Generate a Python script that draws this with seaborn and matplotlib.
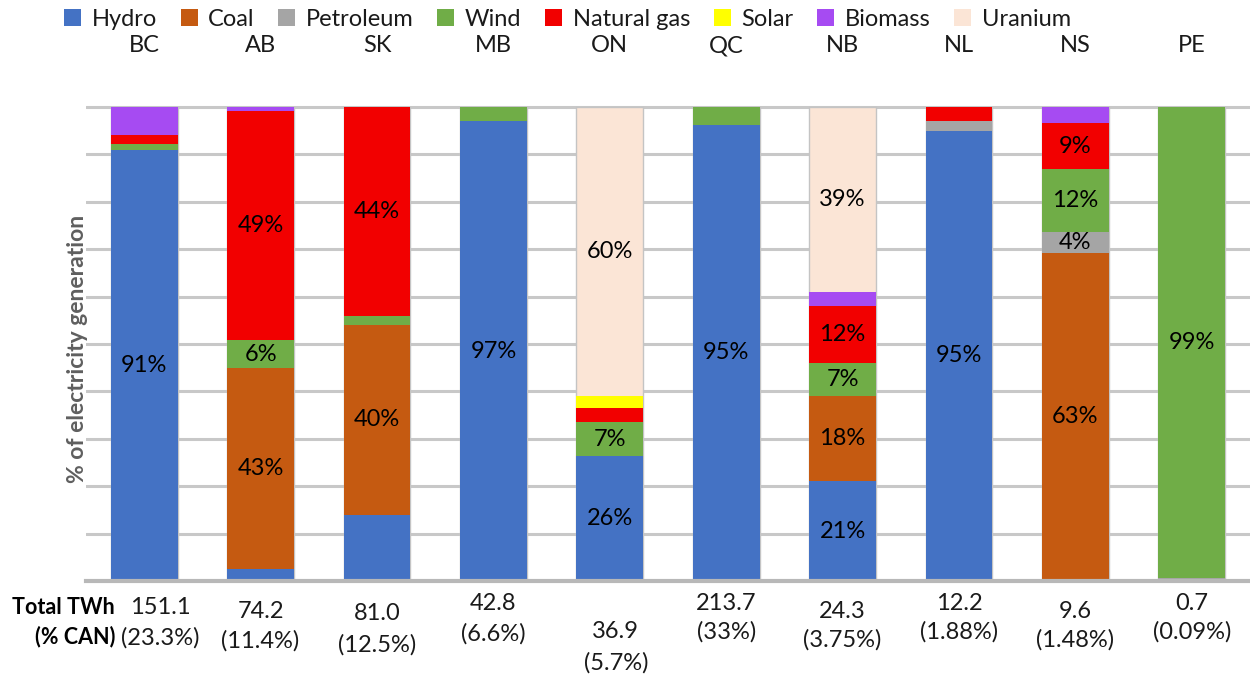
import matplotlib
matplotlib.use("Agg")
import matplotlib.pyplot as plt
import matplotlib.transforms as mtransforms
from matplotlib.patches import Patch
import numpy as np
import pandas as pd
import seaborn as sns

# ---- data -------------------------------------------------------------
provinces = ["BC", "AB", "SK", "MB", "ON", "QC", "NB", "NL", "NS", "PE"]

sources = ["Hydro", "Coal", "Petroleum", "Wind", "Natural gas", "Solar",
           "Biomass", "Uranium"]

hydro = [91, 2.5, 14, 97, 26, 95, 21, 95, 0, 0]
coal = [0, 43, 40, 0, 0, 0, 18, 0, 63, 0]
petroleum = [0, 0, 0, 0, 0, 0, 0, 2, 4, 0.7]
wind = [1.2, 6, 2, 3, 7, 3.7, 7, 0, 12, 99]
natural_gas = [1.8, 49, 44, 0, 3, 0, 12, 3, 9, 0]
solar = [0, 0, 0, 0, 2.5, 0, 0, 0, 0, 0]
biomass = [6, 0.8, 0, 0, 0, 0, 3, 0, 3, 0]
uranium = [0, 0, 0, 0, 60, 0, 39, 0, 0, 0]

total_twh = [151.1, 74.2, 81.0, 42.8, 36.9, 213.7, 24.3, 12.2, 9.6, 0.7]
share_of_canada = [23.3, 11.4, 12.5, 6.6, 5.7, 33, 3.75, 1.88, 1.48, 0.09]

# segments that carry a value label
labelled = {
    "BC": ["Hydro"],
    "AB": ["Coal", "Wind", "Natural gas"],
    "SK": ["Coal", "Natural gas"],
    "MB": ["Hydro"],
    "ON": ["Hydro", "Wind", "Uranium"],
    "QC": ["Hydro"],
    "NB": ["Hydro", "Coal", "Wind", "Natural gas", "Uranium"],
    "NL": ["Hydro"],
    "NS": ["Coal", "Petroleum", "Wind", "Natural gas"],
    "PE": ["Wind"],
}

# ---- styling ----------------------------------------------------------
colors = {
    "Hydro": "#4472C4",
    "Coal": "#C55A11",
    "Petroleum": "#A5A5A5",
    "Wind": "#70AD47",
    "Natural gas": "#F20000",
    "Solar": "#FFFF00",
    "Biomass": "#A64BF2",
    "Uranium": "#FBE5D6",
}

# text placement below the bars (pixel rows / horizontal nudges)
line1_y = [608, 611, 614, 604, 631, 603, 611, 604, 611, 604]
line2_y = [638, 641, 645, 634, 663, 632, 640, 632, 640, 632]
x_nudge = [16, 0, 0, 0, 6, 0, 0, 0, 0, 0]

W, H = 1250, 677
sns.set_theme(style="white")
plt.rcParams["font.family"] = ["Lato", "DejaVu Sans"]
FS = 17
FSB = 15.5
TXT = "#1a1a1a"

df = pd.DataFrame({
    "province": provinces,
    "Hydro": hydro, "Coal": coal, "Petroleum": petroleum, "Wind": wind,
    "Natural gas": natural_gas, "Solar": solar, "Biomass": biomass,
    "Uranium": uranium,
})
raw = df[sources].to_numpy(dtype=float)
shares = raw / raw.sum(axis=1, keepdims=True) * 100  # 100 % stacked
cum = np.cumsum(shares, axis=1)

fig = plt.figure(figsize=(W / 100, H / 100), dpi=100)
ax_left, ax_right = 86, 1250
ax_bottom, ax_top = 581, 104.6
ax = fig.add_axes([ax_left / W, (H - ax_bottom) / H,
                   (ax_right - ax_left) / W, (ax_bottom - ax_top) / H])

# stacked columns: draw cumulative heights from the top layer downwards
for j in reversed(range(len(sources))):
    src = sources[j]
    sns.barplot(x=provinces, y=cum[:, j], order=provinces, ax=ax,
                color=colors[src], saturation=1, width=0.575,
                edgecolor="#c4c4c4" if src == "Uranium" else colors[src],
                linewidth=1.0 if src == "Uranium" else 0)

ax.set_ylim(0, 100.5)
ax.set_xlim(-0.5, len(provinces) - 0.5)
ax.set_yticks(np.arange(0, 101, 10))
ax.yaxis.grid(True, color="#c8c8c8", linewidth=2.2)
ax.xaxis.grid(False)
ax.set_axisbelow(True)
ax.tick_params(axis="both", length=0, labelleft=False, labelbottom=False)
ax.set_xlabel("")
ax.set_ylabel("")
for side in ["left", "right", "top"]:
    ax.spines[side].set_visible(False)
ax.spines["bottom"].set_color("#b8b8b8")
ax.spines["bottom"].set_linewidth(3)
ax.spines["bottom"].set_zorder(5)

# value labels inside segments
for i, prov in enumerate(provinces):
    for src in labelled[prov]:
        j = sources.index(src)
        mid = cum[i, j] - shares[i, j] / 2
        ax.text(i, mid, f"{raw[i, j]:.0f}%", ha="center", va="center",
                fontsize=FS, color="black", zorder=6)

# province names above the columns
blend = mtransforms.blended_transform_factory(ax.transData, fig.transFigure)
for i, prov in enumerate(provinces):
    ax.text(i, 1 - 46 / H, prov, transform=blend, ha="center", va="center",
            fontsize=FS, color=TXT)

# totals below the columns
step = (ax_right - ax_left) / len(provinces)
for i in range(len(provinces)):
    xi = i + x_nudge[i] / step
    ax.text(xi, 1 - line1_y[i] / H, f"{total_twh[i]:.1f}", transform=blend,
            ha="center", va="center", fontsize=FS, color=TXT)
    ax.text(xi, 1 - line2_y[i] / H, f"({share_of_canada[i]:g}%)",
            transform=blend, ha="center", va="center", fontsize=FS, color=TXT)

fig.text(115 / W, 1 - 608 / H, "Total TWh", ha="right", va="center",
         fontsize=FSB, fontweight="bold", color="black")
fig.text(115 / W, 1 - 637 / H, "(% CAN)", ha="right", va="center",
         fontsize=FSB, fontweight="bold", color="black")

# axis title
fig.text(78 / W, 1 - 349 / H, "% of electricity generation", rotation=90,
         ha="center", va="center", fontsize=16.5, fontweight="bold",
         color="#5f5f5f")

# legend across the top
handles = [Patch(facecolor=colors[s], edgecolor="none") for s in sources]
fig.legend(handles, sources, loc="center", bbox_to_anchor=(0.454, 1 - 19 / H),
           ncol=len(sources), frameon=False, fontsize=FS,
           handlelength=0.72, handleheight=0.72, handletextpad=0.45,
           columnspacing=1.0, labelcolor=TXT)

fig.savefig("out.png", dpi=100, facecolor="white")
